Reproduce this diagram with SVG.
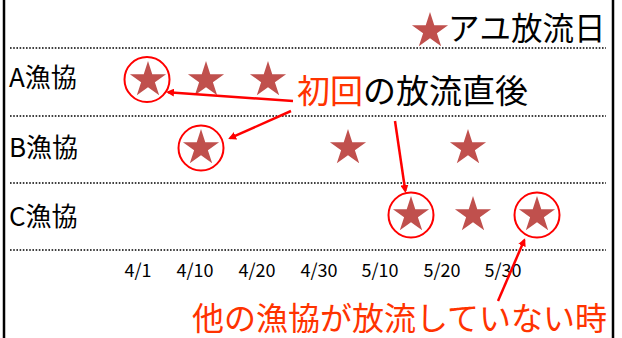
<svg xmlns="http://www.w3.org/2000/svg" xmlns:xlink="http://www.w3.org/1999/xlink" width="622" height="338" viewBox="0 0 622 338">
<style>
text{font-family:"Noto Sans CJK JP","Noto Sans",sans-serif;}
.row{font-size:26px;fill:#000;}
.axis{font-size:18px;fill:#000;text-anchor:middle;}
.dot{stroke:#000;stroke-width:1.5;stroke-dasharray:1.6 1.6;fill:none;}
.ring{fill:none;stroke:#FF0000;stroke-width:2;}
.arrow{stroke:#FF0000;stroke-width:2.5;fill:none;marker-end:url(#ah);}
.star{fill:#C0504D;}
.em{fill:#FF3300;}
</style>
<defs>
<polygon id="star" class="star" points="0,-19 4.27,-5.87 18.07,-5.87 6.9,2.24 11.17,15.37 0,7.26 -11.17,15.37 -6.9,2.24 -18.07,-5.87 -4.27,-5.87"/>
<marker id="ah" markerWidth="8" markerHeight="8" refX="6" refY="4" orient="auto" markerUnits="userSpaceOnUse">
<path d="M0,0 L8,4 L0,8 Z" fill="#FF0000"/>
</marker>
</defs>
<rect width="622" height="338" fill="#fff"/>
<g id="frame">
<line x1="4" y1="0" x2="4" y2="338" stroke="#000" stroke-width="2.5"/>
<line x1="613" y1="0" x2="613" y2="338" stroke="#000" stroke-width="2.5"/>
<line class="dot" x1="10" y1="48" x2="606" y2="48"/>
<line class="dot" x1="10" y1="116" x2="606" y2="116"/>
<line class="dot" x1="10" y1="183" x2="606" y2="183"/>
<line class="dot" x1="10" y1="250" x2="606" y2="250"/>
</g>
<g id="legend">
<use xlink:href="#star" x="430" y="31"/>
<text x="448" y="40" style="font-size:31.5px">アユ放流日</text>
</g>
<g id="rowA">
<text class="row" x="9" y="87">A漁協</text>
<use xlink:href="#star" x="148" y="80"/>
<circle class="ring" cx="147" cy="79.5" r="22.5"/>
<use xlink:href="#star" x="206" y="80"/>
<use xlink:href="#star" x="268" y="80"/>
</g>
<g id="rowB">
<text class="row" x="9" y="157">B漁協</text>
<use xlink:href="#star" x="201" y="148"/>
<circle class="ring" cx="201" cy="148" r="22.5"/>
<use xlink:href="#star" x="348" y="148"/>
<use xlink:href="#star" x="468" y="148"/>
</g>
<g id="rowC">
<text class="row" x="9" y="226">C漁協</text>
<use xlink:href="#star" x="411" y="215"/>
<circle class="ring" cx="411" cy="215" r="22.5"/>
<use xlink:href="#star" x="473" y="215"/>
<use xlink:href="#star" x="537" y="215"/>
<circle class="ring" cx="537" cy="215" r="22.5"/>
</g>
<g id="axis">
<text class="axis" x="138" y="277">4/1</text>
<text class="axis" x="195" y="277">4/10</text>
<text class="axis" x="257" y="277">4/20</text>
<text class="axis" x="319" y="277">4/30</text>
<text class="axis" x="380" y="277">5/10</text>
<text class="axis" x="442" y="277">5/20</text>
<text class="axis" x="503" y="277">5/30</text>
</g>
<g id="label-first">
<text x="297" y="103" style="font-size:33px"><tspan class="em">初回</tspan>の放流直後</text>
</g>
<g id="label-other">
<text class="em" x="192" y="330" style="font-size:32px">他の漁協が放流していない時</text>
</g>
<g id="connectors">
<line class="arrow" x1="293" y1="101" x2="168" y2="92.2"/>
<line class="arrow" x1="291" y1="111" x2="230" y2="138.2"/>
<line class="arrow" x1="395" y1="121" x2="405.3" y2="191"/>
<line class="arrow" x1="498" y1="301" x2="524.3" y2="240"/>
</g>
</svg>
